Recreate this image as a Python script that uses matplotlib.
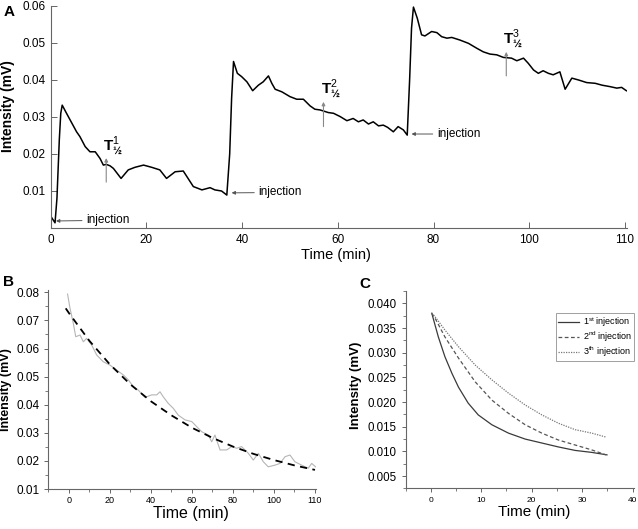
import matplotlib
matplotlib.use('Agg')
import matplotlib.pyplot as plt
from matplotlib.ticker import MultipleLocator, FixedLocator

plt.rcParams['font.family'] = ['Liberation Sans', 'DejaVu Sans']
plt.rcParams['mathtext.fontset'] = 'custom'
plt.rcParams['mathtext.rm'] = 'Liberation Sans'
plt.rcParams['mathtext.bf'] = 'Liberation Sans:bold'

# Panel A: full recording (x in axis units, last tick is labelled 110)
a_time = [0, 0.9, 1.3, 1.8, 2.1, 2.4, 3.3, 5.4, 6.1, 7.2, 8.2, 9.3, 10.3, 11.0,
          11.6, 12.4, 13.1, 14.7, 16.2, 17.6, 19.4, 21.1, 22.8, 24.2, 26.0,
          27.7, 29.8, 31.6, 33.3, 34.3, 35.7, 36.8, 37.4, 37.8, 38.2, 39.0,
          39.9, 41.0, 42.2, 43.4, 44.4, 45.5, 46.2, 46.9, 48.3, 50.0, 51.4,
          52.8, 54.2, 55.2, 56.3, 58.0, 59.1, 60.5, 61.9, 63.2, 64.3, 65.3,
          66.4, 67.4, 68.5, 69.5, 70.4, 71.6, 72.6, 73.7, 74.5, 75.0, 75.4,
          75.8, 76.6, 77.5, 78.2, 79.6, 80.7, 81.7, 82.8, 83.8, 85.5, 87.3,
          89.0, 90.4, 91.8, 93.2, 94.6, 96.3, 97.4, 98.8, 99.8, 100.9, 101.9,
          102.9, 104.0, 105.0, 106.4, 107.5, 108.9, 110.3, 112.0, 113.8,
          115.2, 116.9, 118.3, 119.3, 120.3]
a_val = [0.0032, 0.0014, 0.008, 0.024, 0.031, 0.0332, 0.031, 0.026, 0.0247,
         0.022, 0.0206, 0.0206, 0.0188, 0.017, 0.0172, 0.0168, 0.0161, 0.0134,
         0.0157, 0.0164, 0.017, 0.0164, 0.0157, 0.0134, 0.0152, 0.0154,
         0.0112, 0.0103, 0.0109, 0.0103, 0.0100, 0.0089, 0.020, 0.035, 0.045,
         0.0418, 0.0409, 0.0395, 0.0371, 0.0386, 0.0395, 0.0411, 0.0391,
         0.0375, 0.0368, 0.0355, 0.0348, 0.0348, 0.0330, 0.0321, 0.0319,
         0.0312, 0.0310, 0.0301, 0.0290, 0.0296, 0.0287, 0.0292, 0.0281,
         0.0287, 0.0276, 0.0278, 0.0272, 0.0260, 0.0274, 0.0265, 0.0251,
         0.040, 0.054, 0.0597, 0.0567, 0.0522, 0.0519, 0.0531, 0.0528, 0.0517,
         0.0513, 0.0515, 0.0508, 0.0499, 0.0486, 0.0476, 0.0470, 0.0468,
         0.0461, 0.0459, 0.0452, 0.0459, 0.0445, 0.0427, 0.0418, 0.0425,
         0.0418, 0.0414, 0.0422, 0.0375, 0.0405, 0.0400, 0.0393, 0.0391,
         0.0386, 0.0382, 0.0378, 0.0380, 0.0371]
a_xticks = [0, 20, 40, 60, 80, 100, 120]
a_xtick_labels = ['0', '20', '40', '60', '80', '100', '110']
a_yticks = [0.01, 0.02, 0.03, 0.04, 0.05, 0.06]
# injection markers: arrow tip (time, value) and label position
inj_tips = [(1.1, 0.0019), (37.8, 0.0095), (75.4, 0.0254)]
inj_text = [(7.4, 0.0021), (43.4, 0.0096), (80.7, 0.0254)]
# half-life markers
half_t = [11.6, 57.0, 95.2]
half_lo = [0.0124, 0.0274, 0.0411]
half_hi = [0.0189, 0.0341, 0.0476]
half_lab = ['1', '2', '3']

# Panel B: normalized decay and exponential fit
b_time = [-0.7, 0.5, 2.1, 3.3, 5.4, 7.0, 8.6, 11.1, 13.5, 16.7, 20.0, 23.3,
          26.5, 29.0, 31.4, 33.8, 37.1, 40.3, 42.8, 44.4, 46.0, 48.4, 50.9,
          53.3, 56.6, 59.9, 62.3, 64.7, 68.0, 69.6, 71.2, 73.7, 76.9, 79.4,
          81.8, 84.2, 87.5, 89.9, 92.4, 94.8, 97.2, 100.5, 102.9, 105.4,
          107.8, 110.2, 113.5, 116.7, 118.4, 120.3]
b_val = [0.0794, 0.0743, 0.0690, 0.0642, 0.0648, 0.0624, 0.0636, 0.0612,
         0.0577, 0.0553, 0.0541, 0.0523, 0.0506, 0.0488, 0.0464, 0.0452,
         0.0426, 0.0435, 0.0435, 0.0446, 0.0428, 0.0405, 0.0387, 0.0363,
         0.0346, 0.0340, 0.0322, 0.0304, 0.0292, 0.0268, 0.0292, 0.0239,
         0.0239, 0.0251, 0.0245, 0.0251, 0.0227, 0.0203, 0.0227, 0.0197,
         0.0179, 0.0185, 0.0191, 0.0215, 0.0221, 0.0197, 0.0185, 0.0174,
         0.0191, 0.0179]
fit_time = [-1.6, 0, 10, 20, 30, 40, 50, 60, 70, 80, 90, 100, 110, 120]
fit_val = [0.0743, 0.0726, 0.0627, 0.0543, 0.0472, 0.0412, 0.0362, 0.0318,
           0.0282, 0.0251, 0.0225, 0.0203, 0.0184, 0.0168]

# Panel C: fitted decays after each injection
c_time1 = [0.2, 1.5, 2.8, 4.2, 5.5, 7.4, 9.4, 12.1, 15.4, 18.7, 22.0, 25.3,
           28.6, 31.9, 34.9]
c_first = [0.0380, 0.0332, 0.0292, 0.0258, 0.0230, 0.0198, 0.0174, 0.0154,
           0.0137, 0.0125, 0.0117, 0.0109, 0.0102, 0.0098, 0.0093]
c_time2 = [0.2, 0.85, 2.8, 5.5, 8.8, 12.1, 15.4, 18.7, 22.0, 25.3, 28.6, 31.9,
           34.7]
c_second = [0.0380, 0.0370, 0.0332, 0.0289, 0.0241, 0.0204, 0.0177, 0.0154,
            0.0137, 0.0123, 0.0113, 0.0103, 0.0093]
c_third = [0.0380, 0.0373, 0.0346, 0.0312, 0.0275, 0.0245, 0.0218, 0.0194,
           0.0174, 0.0157, 0.0144, 0.0137, 0.0129]
c_labels = [r'1$^{\mathrm{st}}$ injection', r'2$^{\mathrm{nd}}$ injection',
            r'3$^{\mathrm{th}}$ injection']

axis_col = '#666666'


def style_axes(ax):
    ax.spines['top'].set_visible(False)
    ax.spines['right'].set_visible(False)
    for s in ('left', 'bottom'):
        ax.spines[s].set_color(axis_col)
        ax.spines[s].set_linewidth(0.8)
    ax.tick_params(colors=axis_col, labelcolor='black', width=0.7)


fig = plt.figure(figsize=(6.38, 5.29), dpi=100)

# ---- A ----
axA = fig.add_axes([0.0795, 0.569, 0.9038, 0.4197])
style_axes(axA)
axA.plot(a_time, a_val, color='black', lw=1.1)
axA.set_xlim(0, 120.5)
axA.set_ylim(0, 0.06)
axA.set_xticks(a_xticks)
axA.set_xticklabels(a_xtick_labels)
axA.set_yticks(a_yticks)
axA.set_yticklabels(['%.2f' % v for v in a_yticks])
axA.tick_params(direction='in', length=4, labelsize=8.5)
axA.tick_params(axis='x', pad=4)
axA.set_xlabel('Time (min)', fontsize=10.5)
axA.set_ylabel('Intensity (mV)', fontsize=10, fontweight='bold')
axA.xaxis.set_label_coords(0.495, -0.088)
axA.yaxis.set_label_coords(-0.062, 0.55)

for (tx, ty), (lx, ly) in zip(inj_tips, inj_text):
    axA.annotate('injection', xy=(tx, ty), xytext=(lx, ly), fontsize=8.5,
                 va='center', ha='left',
                 arrowprops=dict(arrowstyle='-|>', color='#555555', lw=0.7,
                                 mutation_scale=5, shrinkA=1, shrinkB=0))

for t, lo, hi, lab in zip(half_t, half_lo, half_hi, half_lab):
    axA.annotate('', xy=(t, hi), xytext=(t, lo),
                 arrowprops=dict(arrowstyle='-|>', color='#888888', lw=0.8,
                                 mutation_scale=5, shrinkA=0, shrinkB=0))
    axA.text(t - 0.6, hi + 0.0001, r'$\mathbf{T}^{%s}_{\mathbf{½}}$' % lab,
             fontsize=11, ha='left', va='bottom')

# ---- B ----
axB = fig.add_axes([0.076, 0.0756, 0.4193, 0.3771])
style_axes(axB)
axB.plot(b_time, b_val, color='#b5b5b5', lw=0.8)
axB.plot(fit_time, fit_val, color='black', lw=1.3, ls=(0, (4, 3)))
axB.set_xlim(-10, 120.5)
axB.set_ylim(0.01, 0.081)
axB.xaxis.set_major_locator(FixedLocator(a_xticks))
axB.set_xticklabels(a_xtick_labels)
axB.xaxis.set_minor_locator(FixedLocator([-10, 10, 30, 50, 70, 90, 110]))
axB.yaxis.set_major_locator(MultipleLocator(0.01))
axB.yaxis.set_minor_locator(MultipleLocator(0.005))
axB.yaxis.set_major_formatter(plt.FormatStrFormatter('%.2f'))
axB.tick_params(which='major', direction='out', length=3)
axB.tick_params(which='minor', direction='out', length=2, colors=axis_col)
axB.tick_params(axis='x', labelsize=6.5, pad=2)
axB.tick_params(axis='y', labelsize=8.5)
axB.set_xlabel('Time (min)', fontsize=11.5)
axB.set_ylabel('Intensity (mV)', fontsize=9, fontweight='bold')
axB.xaxis.set_label_coords(0.532, -0.085)
axB.yaxis.set_label_coords(-0.136, 0.5)

# ---- C ----
axC = fig.add_axes([0.6356, 0.0767, 0.3585, 0.3732])
style_axes(axC)
axC.plot(c_time1, c_first, color='#3a3a3a', lw=0.9, label=c_labels[0])
axC.plot(c_time2, c_second, color='#555555', lw=0.9, ls=(0, (3, 2)),
         label=c_labels[1])
axC.plot(c_time2, c_third, color='#777777', lw=0.9, ls=(0, (1, 1)),
         label=c_labels[2])
axC.set_xlim(-5, 40.3)
axC.set_ylim(0.0025, 0.0425)
axC.xaxis.set_major_locator(MultipleLocator(10))
axC.xaxis.set_minor_locator(MultipleLocator(5))
axC.yaxis.set_major_locator(MultipleLocator(0.005))
axC.yaxis.set_minor_locator(MultipleLocator(0.0025))
axC.yaxis.set_major_formatter(plt.FormatStrFormatter('%.3f'))
axC.tick_params(which='major', direction='out', length=3)
axC.tick_params(which='minor', direction='out', length=2, colors=axis_col)
axC.tick_params(axis='x', labelsize=6, pad=3)
axC.tick_params(axis='y', labelsize=8.3)
axC.set_xlabel('Time (min)', fontsize=11)
axC.set_ylabel('Intensity (mV)', fontsize=9.5, fontweight='bold')
axC.xaxis.set_label_coords(0.563, -0.084)
axC.yaxis.set_label_coords(-0.19, 0.524)
leg = axC.legend(loc='upper right', bbox_to_anchor=(1.0, 0.887), fontsize=6.5,
                 frameon=True, fancybox=False, handlelength=2.3,
                 borderpad=0.25, labelspacing=0.05, handletextpad=0.4,
                 borderaxespad=0)
leg.get_frame().set_edgecolor('#888888')
leg.get_frame().set_linewidth(0.7)

fig.text(0.005, 0.991, 'A', fontsize=11, fontweight='bold', va='top')
fig.text(0.005, 0.481, 'B', fontsize=11, fontweight='bold', va='top')
fig.text(0.563, 0.477, 'C', fontsize=11, fontweight='bold', va='top')

fig.savefig('out.png', dpi=100)
